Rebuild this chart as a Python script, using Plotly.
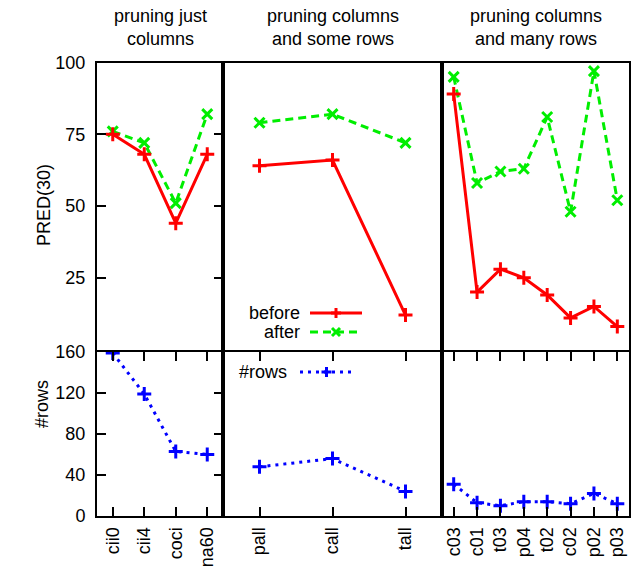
import plotly.graph_objects as go

# ---- data -------------------------------------------------------------
cats_just = ["cii0", "cii4", "coci", "na60"]
cats_some = ["pall", "call", "tall"]
cats_many = ["c03", "c01", "t03", "p04", "t02", "c02", "p02", "p03"]

before_just = [75, 68, 44, 68]
after_just = [76, 72, 51, 82]
rows_just = [159, 119, 63, 60]

before_some = [64, 66, 12]
after_some = [79, 82, 72]
rows_some = [48, 56, 24]

before_many = [89, 20, 28, 25, 19, 11, 15, 8]
after_many = [95, 58, 62, 63, 81, 48, 97, 52]
rows_many = [31, 13, 10, 14, 14, 12, 22, 12]

panel_titles = ["pruning just<br>columns",
                "pruning columns<br>and some rows",
                "pruning columns<br>and many rows"]
pred_ticks = [25, 50, 75, 100]
rows_ticks = [0, 40, 80, 120, 160]

# ---- styling ----------------------------------------------------------
W, H = 633, 567
FONT = "Liberation Sans, Arial, Helvetica, sans-serif"
FS = 18
RED, GREEN, BLUE = "#ff0000", "#00ee00", "#0000ff"
GREEN_DASH = "8px,5px"
BLUE_DOT = "3px,5px"
MSIZE = 10


def px_x(p):
    return p / W


def px_y(p):
    return 1 - p / H


xdom = [[px_x(97), px_x(223)], [px_x(223), px_x(442)], [px_x(442), px_x(629)]]
ydom_top = [px_y(349.5), px_y(62.5)]
ydom_bot = [px_y(516), px_y(352)]

fig = go.Figure()

groups = [
    (cats_just, before_just, after_just, rows_just),
    (cats_some, before_some, after_some, rows_some),
    (cats_many, before_many, after_many, rows_many),
]


def style(color, symbol, dash):
    return dict(
        line=dict(color=color, width=3, dash=dash),
        marker=dict(symbol=symbol, size=MSIZE, color=color,
                    line=dict(color=color, width=3)),
    )


tickfont = dict(family=FONT, size=FS, color="black")

for i, (cats, bef, aft, rows) in enumerate(groups):
    top = i + 1
    bot = i + 4
    xt = "x" if top == 1 else f"x{top}"
    yt = "y" if top == 1 else f"y{top}"
    xb, yb = f"x{bot}", f"y{bot}"
    fig.add_trace(go.Scatter(x=cats, y=aft, mode="lines+markers", xaxis=xt, yaxis=yt,
                             showlegend=False, **style(GREEN, "x-thin", GREEN_DASH)))
    fig.add_trace(go.Scatter(x=cats, y=bef, mode="lines+markers", xaxis=xt, yaxis=yt,
                             showlegend=False, **style(RED, "cross-thin", "solid")))
    fig.add_trace(go.Scatter(x=cats, y=rows, mode="lines+markers", xaxis=xb, yaxis=yb,
                             showlegend=False, **style(BLUE, "cross-thin", BLUE_DOT)))

    n = len(cats)
    common_x = dict(type="category", categoryorder="array", categoryarray=cats,
                    range=[-0.5, n - 0.5], domain=xdom[i], showgrid=False,
                    zeroline=False, showline=True, linecolor="black", linewidth=2,
                    mirror=True, fixedrange=True, automargin=False)
    fig.update_layout(**{
        ("xaxis" if top == 1 else f"xaxis{top}"): dict(
            common_x, anchor=yt, showticklabels=False, ticks=""),
        f"xaxis{bot}": dict(
            common_x, anchor=yb, ticks="inside", ticklen=9, tickwidth=1.5,
            tickcolor="black", mirror="ticks", tickangle=-90,
            ticklabelstandoff=2, tickfont=tickfont),
    })

    common_y = dict(showgrid=False, zeroline=False, showline=True, linecolor="black",
                    linewidth=2, fixedrange=True, tickfont=tickfont, automargin=False)
    if i == 0:
        ytop = dict(common_y, domain=ydom_top, anchor=xt, range=[0, 100],
                    tickmode="array", tickvals=pred_ticks, ticks="inside",
                    ticklen=9, tickwidth=1.5, tickcolor="black", mirror="ticks",
                    ticklabelstandoff=6)
        ybot = dict(common_y, domain=ydom_bot, anchor=xb, range=[0, 160],
                    tickmode="array", tickvals=rows_ticks, ticks="inside",
                    ticklen=9, tickwidth=1.5, tickcolor="black", mirror="ticks",
                    ticklabelstandoff=6)
    else:
        ytop = dict(common_y, domain=ydom_top, anchor=xt, range=[0, 100],
                    showticklabels=False, ticks="", mirror=True)
        ybot = dict(common_y, domain=ydom_bot, anchor=xb, range=[0, 160],
                    showticklabels=False, ticks="", mirror=True)
    fig.update_layout(**{("yaxis" if top == 1 else f"yaxis{top}"): ytop,
                         f"yaxis{bot}": ybot})

# ---- key (gnuplot style: label on the left, sample on the right) -------
shapes = []


def seg(x0, y0, x1, y1, color, width=3, dash="solid"):
    shapes.append(dict(type="line", xref="paper", yref="paper",
                       x0=px_x(x0), y0=px_y(y0), x1=px_x(x1), y1=px_y(y1),
                       line=dict(color=color, width=width, dash=dash)))


def key_marker(cx, cy, sym, color):
    if sym == "plus":
        seg(cx - 5, cy, cx + 5, cy, color)
        seg(cx, cy - 5, cx, cy + 5, color)
    else:
        seg(cx - 4, cy - 4, cx + 4, cy + 4, color)
        seg(cx - 4, cy + 4, cx + 4, cy - 4, color)


key_entries = [
    ("before", RED, "plus", "solid", 301, 310, 362, 313),
    ("after", GREEN, "cross", GREEN_DASH, 301, 310, 362, 332),
    ("#rows", BLUE, "plus", BLUE_DOT, 288, 300, 353, 372),
]
for label, color, sym, dash, tx, x0, x1, yy in key_entries:
    seg(x0, yy, x1, yy, color, dash=dash)
    key_marker((x0 + x1) / 2, yy, sym, color)
    fig.add_annotation(x=px_x(tx), y=px_y(yy), xref="paper", yref="paper",
                       text=label, showarrow=False, xanchor="right", yanchor="middle",
                       borderpad=0, font=dict(family=FONT, size=FS, color="black"))

for i, t in enumerate(panel_titles):
    fig.add_annotation(x=(xdom[i][0] + xdom[i][1]) / 2, y=px_y(27), xref="paper",
                       yref="paper", text=t, showarrow=False, xanchor="center",
                       yanchor="middle", font=dict(family=FONT, size=FS, color="black"))
fig.add_annotation(x=px_x(32), y=px_y(205), xref="paper", yref="paper",
                   text="PRED(30)", textangle=-90, showarrow=False,
                   font=dict(family=FONT, size=FS, color="black"))
fig.add_annotation(x=px_x(30), y=px_y(430), xref="paper", yref="paper",
                   text="#rows", textangle=-90, showarrow=False,
                   font=dict(family=FONT, size=FS, color="black"))

fig.update_layout(width=W, height=H,
                  margin=dict(l=0, r=0, t=0, b=0, autoexpand=False),
                  paper_bgcolor="white", plot_bgcolor="white", showlegend=False,
                  shapes=shapes)

fig.write_html("out.html")
